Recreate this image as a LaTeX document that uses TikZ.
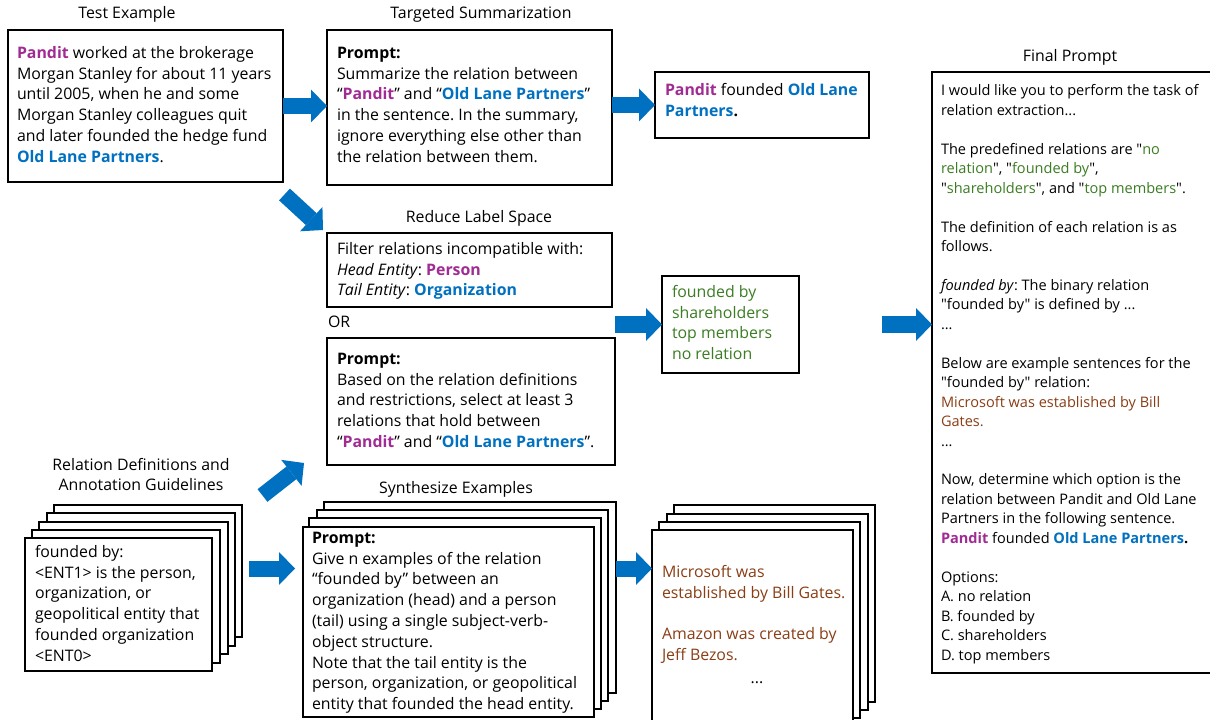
\documentclass[tikz,border=0pt]{standalone}
\usepackage{fontspec}
\setmainfont{Open Sans}[Ligatures=TeXOff]
\usetikzlibrary{arrows.meta}
\frenchspacing
\definecolor{pur}{HTML}{A02B93}
\definecolor{olb}{HTML}{0070C0}
\definecolor{grn}{HTML}{3B7D23}
\definecolor{brn}{HTML}{8A3E15}
\definecolor{arrblue}{HTML}{0070C0}
\newcommand{\Pd}{\textbf{\textcolor{pur}{Pandit}}}
\newcommand{\OLP}{\textbf{\textcolor{olb}{Old Lane Partners}}}
\newcommand{\gr}[1]{\textcolor{grn}{#1}}
\newcommand{\br}[1]{\textcolor{brn}{#1}}
\newcommand{\mkbox}[5]{\node[box, anchor=north west, minimum width={(#4-#2)*0.75pt}, minimum height={(#5-#3)*0.75pt}] (#1) at (#2,#3) {};}
\tikzset{
  box/.style={draw=black, line width=1.2pt, fill=white, inner sep=0pt, outer sep=0pt},
  tx/.style={inner sep=0pt, outer sep=0pt, anchor=north west, align=left, font=\fontsize{11.9}{15.6}\selectfont},
  ftx/.style={inner sep=0pt, outer sep=0pt, anchor=north west, align=left, font=\fontsize{10.9}{14.59}\selectfont},
  ttl/.style={inner sep=0pt, align=center, font=\fontsize{11.9}{15.6}\selectfont},
  bigarrow/.style={draw=arrblue, line width=12pt, -{Triangle[length=12pt, width=24.75pt, line width=0pt]}},
}
\begin{document}
\begin{tikzpicture}[x=0.75pt, y=-0.75pt]
\useasboundingbox (0,0) rectangle (1210,720);
\clip (0,0) rectangle (1210,720);

% titles
\node[ttl] (t1) at (127,14) {Test Example};
\node[ttl] (t2) at (481,14) {Targeted Summarization};
\node[ttl] (t3) at (479,218) {Reduce Label Space};
\node[ttl] (t4) at (1070,57) {Final Prompt};
\node[ttl] (t5) at (141,474.5) {Relation Definitions and\\Annotation Guidelines};
\node[ttl] (t6) at (456,489) {Synthesize Examples};

% top row boxes
\mkbox{test}{8}{30}{283}{182}
\node[tx] (testtx) at (17,43.7) {\strut\Pd{} worked at the brokerage\\
Morgan Stanley for about 11 years\\
until 2005, when he and some\\
Morgan Stanley colleagues quit\\
and later founded the hedge fund\\
\OLP.};

\mkbox{summ}{327}{30}{612}{185}
\node[tx] (summtx) at (337,43.7) {\strut\textbf{Prompt:}\\
Summarize the relation between\\
“\Pd” and “\OLP”\\
in the sentence. In the summary,\\
ignore everything else other than\\
the relation between them.};

\mkbox{result}{655}{72}{869}{138}
\node[tx] (resulttx) at (665,80.7) {\strut\Pd{} founded \textbf{\textcolor{olb}{Old Lane}}\\
\textbf{\textcolor{olb}{Partners}}\textbf{.}};

% reduce label space
\mkbox{reduce}{327}{233}{612}{307}
\node[tx] (reducetx) at (337,239.7) {\strut Filter relations incompatible with:\\
\textit{Head Entity}: \textbf{\textcolor{pur}{Person}}\\
\textit{Tail Entity}: \textbf{\textcolor{olb}{Organization}}};

\node[tx] (ortx) at (328,312.7) {\strut OR};

\mkbox{prompt}{327}{338}{615}{465}
\node[tx] (prompttx) at (337,349.7) {\strut\textbf{Prompt:}\\
Based on the relation definitions\\
and restrictions, select at least 3\\
relations that hold between\\
“\Pd” and “\OLP”.};

\mkbox{green}{662}{276}{799}{373}
\node[tx, text=grn] (greentx) at (672,282.7) {\strut founded by\\
shareholders\\
top members\\
no relation};

% final prompt
\mkbox{final}{932}{72}{1216}{673}
\node[ftx] (finaltx) at (941,82.3) {\strut I would like you to perform the task of\\
relation extraction...\\
\mbox{}\\
The predefined relations are "\gr{no}\\
\gr{relation}", "\gr{founded by}",\\
"\gr{shareholders}", and "\gr{top members}".\\
\mbox{}\\
The definition of each relation is as\\
follows.\\
\mbox{}\\
\textit{founded by}: The binary relation\\
"founded by" is defined by ...\\
...\\
\mbox{}\\
Below are example sentences for the\\
"founded by" relation:\\
\br{Microsoft was established by Bill}\\
\br{Gates.}\\
...\\
\mbox{}\\
Now, determine which option is the\\
relation between Pandit and Old Lane\\
Partners in the following sentence.\\
\Pd{} founded \OLP\textbf{.}\\
\mbox{}\\
Options:\\
A. no relation\\
B. founded by\\
C. shareholders\\
D. top members};

% definitions stack
\mkbox{def5}{54}{505}{242}{637}
\mkbox{def4}{47}{513}{235}{646}
\mkbox{def3}{39}{522}{228}{654}
\mkbox{def2}{32}{530}{220}{663}
\mkbox{def1}{25}{538}{212}{671}
\node[tx] (deftx) at (35,542.7) {\strut founded by:\\
<ENT1> is the person,\\
organization, or\\
geopolitical entity that\\
founded organization\\
<ENT0>};

% synthesize stack
\mkbox{syn4}{324}{502}{616}{693}
\mkbox{syn3}{317}{510}{608}{701}
\mkbox{syn2}{309}{518}{601}{709}
\mkbox{syn1}{303}{527}{594}{717}
\node[tx] (syntx) at (312,528.7) {\strut\textbf{Prompt:}\\
Give n examples of the relation\\
“founded by” between an\\
organization (head) and a person\\
(tail) using a single subject-verb-\\
object structure.\\
Note that the tail entity is the\\
person, organization, or geopolitical\\
entity that founded the head entity.};

% examples stack
\mkbox{ex4}{674}{505}{875}{702}
\mkbox{ex3}{667}{514}{868}{710}
\mkbox{ex2}{659}{522}{860}{718}
\mkbox{ex1}{652}{530}{853}{728}
\node[tx, text=brn] (extx) at (662,562.7) {\strut Microsoft was\\
established by Bill Gates.\\
\mbox{}\\
Amazon was created by\\
Jeff Bezos.};
\node[inner sep=0pt, font=\fontsize{11.9}{15.6}\selectfont] (exdots) at (757,683) {...};

% connectors
\coordinate (a6s) at (249,568.5);
\coordinate (a8s) at (262.5,495.5);
\coordinate (a5s) at (882,324.5);
\draw[bigarrow] (test.east) -- (test.east -| summ.west);
\draw[bigarrow] (summ.east |- result.west) -- (result.west);
\draw[bigarrow] ([shift={(1.5,12.5)}]test.south east) -- ([shift={(-4,-3)}]reduce.north west);
\draw[bigarrow] (prompt.east |- green.west) -- (green.west);
\draw[bigarrow] (a5s) -- (final.west |- a5s);
\draw[bigarrow] (a6s) -- ([xshift=-6pt]syn1.west |- a6s);
\draw[bigarrow] (syn4.east |- a6s) -- (ex1.west |- a6s);
\draw[bigarrow] (a8s) -- ([shift={(-23,-2)}]prompt.south west);
\end{tikzpicture}
\end{document}
